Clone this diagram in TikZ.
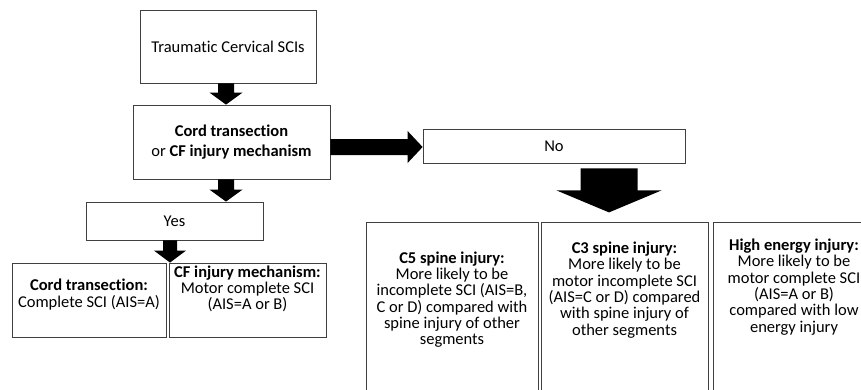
\documentclass[tikz,border=0pt]{standalone}
\usepackage{fontspec}
\setmainfont{Carlito}[Ligatures=NoCommon]
\usetikzlibrary{calc}
\newcommand\vblock[5]{%
  \fill[blockfill] ($(#1)+(-#3,0)$) -- ($(#1)+(#3,0)$) -- ($(#2)+(#3,-#5)$) -- ($(#2)+(#4,-#5)$) -- (#2) -- ($(#2)+(-#4,-#5)$) -- ($(#2)+(-#3,-#5)$) -- cycle;}
\newcommand\hblock[5]{%
  \fill[blockfill] ($(#1)+(0,-#3)$) -- ($(#2)+(-#5,-#3)$) -- ($(#2)+(-#5,-#4)$) -- (#2) -- ($(#2)+(-#5,#4)$) -- ($(#2)+(-#5,#3)$) -- ($(#1)+(0,#3)$) -- cycle;}
\begin{document}
\begin{tikzpicture}[x=1pt,y=-1pt,
  box/.style={draw=black!75, line width=0.8pt, fill=white, inner sep=0pt},
  txt/.style={align=center, font=\fontsize{16.5}{16.3}\selectfont, inner sep=0pt},
  toptxt/.style={align=center, font=\fontsize{16.5}{19.5}\selectfont},
  blockfill/.style={fill=black}]
\useasboundingbox (0,0) rectangle (861,389);
\clip (0,0) rectangle (861,389);
\fill[white] (0,0) rectangle (861,389);

\node[box, minimum width=176pt, minimum height=73pt, toptxt] (top) at (228,46.5) {Traumatic Cervical SCIs};
\node[box, minimum width=197pt, minimum height=74pt, toptxt] (cf) at (231.5,142) {\textbf{Cord transection}\\ or \textbf{CF injury mechanism}};
\node[box, minimum width=262pt, minimum height=34pt, toptxt] (no) at (554,146) {No};
\node[box, minimum width=177pt, minimum height=38pt, toptxt] (yes) at (174.5,221) {Yes};

\node[box, minimum width=154pt, minimum height=74pt] (ct) at (89,300) {};
\node[txt] (cttext) at (89,294.5) {\textbf{Cord transection:}\\Complete SCI (AIS=A)};
\node[box, minimum width=157pt, minimum height=74pt] (cfm) at (247.5,300) {};
\node[txt] (cfmtext) at (247.5,289) {\textbf{CF injury mechanism:}\\Motor complete SCI\\(AIS=A or B)};

\node[box, minimum width=172pt, minimum height=190pt] (c5) at (452,317) {};
\node[txt] (c5text) at (452,299.5) {\textbf{C5 spine injury:}\\More likely to be\\incomplete SCI (AIS=B,\\C or D) compared with\\spine injury of other\\segments};
\node[box, minimum width=167pt, minimum height=190pt] (c3) at (624.5,317) {};
\node[txt] (c3text) at (624.5,290) {\textbf{C3 spine injury:}\\More likely to be\\motor incomplete SCI\\(AIS=C or D) compared\\with spine injury of\\other segments};
\node[box, minimum width=162pt, minimum height=190pt] (he) at (794,317) {};
\node[txt] (hetext) at (794,287) {\textbf{High energy injury:}\\More likely to be\\motor complete SCI\\(AIS=A or B)\\compared with low\\energy injury};

\coordinate (a1s) at ($(top.south)+(-2,0)$);
\coordinate (a1e) at (a1s |- cf.north);
\vblock{a1s}{a1e}{8}{16.5}{12}
\coordinate (a2s) at ($(cf.south)+(-5.5,0)$);
\coordinate (a2e) at (a2s |- yes.north);
\vblock{a2s}{a2e}{8}{16.5}{12}
\coordinate (a3s) at ($(yes.south)+(-4.5,0)$);
\coordinate (a3e) at (a3s |- ct.north);
\vblock{a3s}{a3e}{7}{16}{12}
\coordinate (a4s) at ($(cf.east)+(0,5)$);
\coordinate (a4e) at (a4s -| no.west);
\hblock{a4s}{a4e}{8}{16}{15}
\coordinate (a5s) at ($(no.south)+(55,5)$);
\coordinate (a5e) at ($(a5s)+(0,44)$);
\vblock{a5s}{a5e}{28.5}{52.5}{22}
\end{tikzpicture}
\end{document}
